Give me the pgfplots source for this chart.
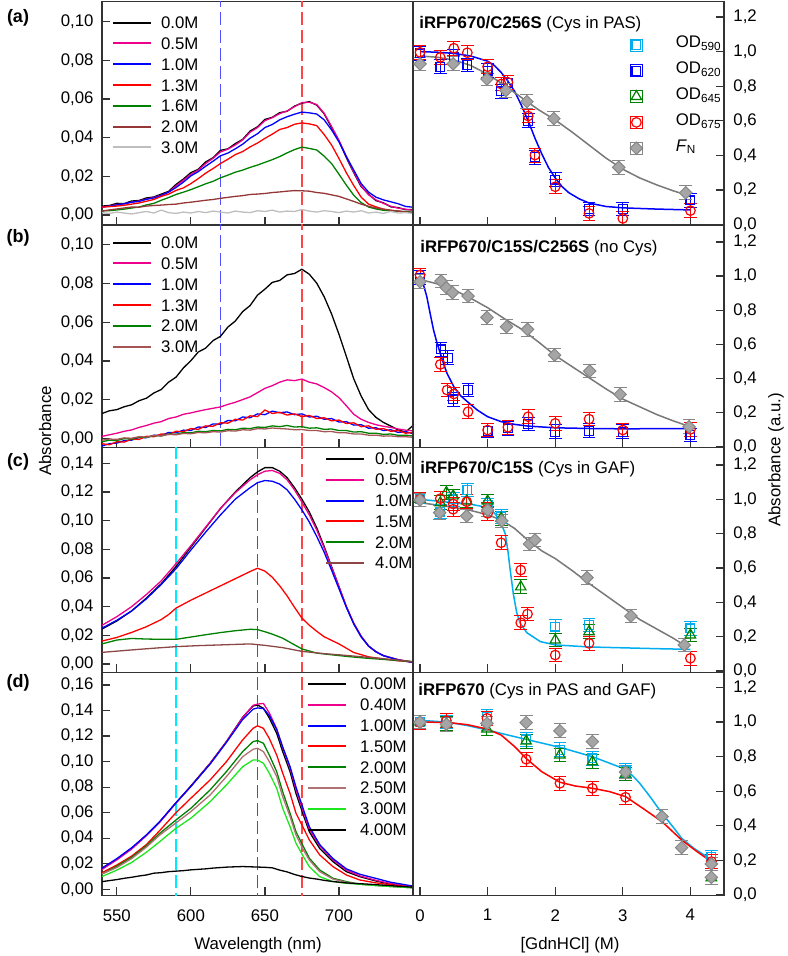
\documentclass[border=0pt]{standalone}
\usepackage{pgfplots}
\pgfplotsset{compat=1.18}
\usepackage{fontspec}
\setmainfont{Liberation Sans}
\newcommand\fs{\fontsize{8.4}{10}\selectfont}
\definecolor{cgreen}{RGB}{0,128,0}
\definecolor{cbrownA}{RGB}{150,55,55}
\definecolor{cgrayA}{RGB}{190,190,190}
\definecolor{cbrownB}{RGB}{165,85,85}
\definecolor{cbrownC}{RGB}{140,70,70}
\definecolor{cbrownD}{RGB}{175,115,115}
\definecolor{clgreen}{RGB}{30,230,30}
\definecolor{dblue}{RGB}{80,80,255}
\definecolor{dred}{RGB}{255,70,70}
\definecolor{dcyan}{RGB}{0,235,255}
\definecolor{dgreen}{RGB}{20,140,20}
\definecolor{fitgray}{RGB}{120,120,120}
\definecolor{dmfill}{RGB}{165,165,165}
\definecolor{dmdraw}{RGB}{135,135,135}
\pgfplotsset{
  base/.style={scale only axis, axis line style={black!80, line width=0.6pt},
    tick style={black!80, line width=0.6pt}, major tick length=4pt, tick align=inside,
    font=\fs, /pgf/number format/assume math mode=true,
    every tick label/.append style={font=\fs}},
  leftax/.style={base, width=155.5pt, xmin=540, xmax=750, xtick={550,600,650,700},
    xtick pos=bottom, ytick pos=left,
    yticklabel style={xshift=-0.7pt, /pgf/number format/.cd, fixed, fixed zerofill, precision=2, use comma},
    xticklabel style={yshift=-3.5pt},
    legend cell align=left,
    legend image code/.code={\draw[##1, line width=1pt] (0pt,0pt) -- (19pt,0pt);},
    legend style={draw=none, fill=none, inner sep=0pt, outer sep=0pt, at={(0,1)}, anchor=north west,
      row sep=4.4pt, column sep=4.5pt, nodes={inner sep=0pt, text height=6pt, text depth=0pt, font=\fs}}},
  rightax/.style={base, width=155.5pt, xmin=-0.104, xmax=4.497, xtick={0,1,2,3,4},
    xtick pos=bottom, ytick pos=right, yticklabel pos=right, ymin=0, ymax=1.29,
    ytick={0,0.2,0.4,0.6,0.8,1.0,1.2},
    yticklabel style={xshift=1.2pt, /pgf/number format/.cd, fixed, fixed zerofill, precision=1, use comma},
    xticklabel style={yshift=-3.5pt},
    legend cell align=left,
    legend style={draw=none, fill=none, inner sep=0pt, outer sep=0pt, at={(0,1)}, anchor=north west,
      row sep=3.9pt, column sep=16.5pt, nodes={inner sep=0pt, text height=6pt, text depth=3pt, font=\fs}}},
  cv/.style={line width=0.65pt, no markers},
  dsh/.style={line width=0.75pt, dash pattern=on 6.5pt off 2.5pt, forget plot},
  fit/.style={line width=0.75pt, no markers, forget plot},
  ebar/.style={error bars/y dir=both, error bars/y fixed=0.04,
    error bars/error bar style={line width=0.5pt, solid},
    error bars/error mark options={rotate=90, mark size=3.2pt, line width=0.5pt}},
  limg/.style={legend image code/.code={\path (-3pt,-3pt) rectangle (3pt,3pt); \draw[##1] plot coordinates {(0pt,0pt)};}},
  mcyan/.style={only marks, color=cyan, mark=square, mark size=2.2pt, mark options={solid, line width=0.6pt}},
  mblue/.style={only marks, color=blue, mark=square, mark size=2.2pt, mark options={solid, line width=0.6pt}},
  mgreen/.style={only marks, color=cgreen, mark=triangle, mark size=3.0pt, mark options={solid, line width=0.6pt}},
  mred/.style={only marks, color=red, mark=o, mark size=2.4pt, mark options={solid, line width=0.6pt}},
  mgray/.style={only marks, color=dmdraw, mark=square*, mark size=2.2pt, mark options={solid, rotate=45, fill=dmfill, draw=dmdraw, line width=0.5pt}},
}
\begin{document}
\begin{tikzpicture}
\path[use as bounding box] (0pt,0pt) rectangle (393.5pt,478pt);

% ================= (a) left =================
\begin{axis}[leftax, at={(51pt,365.5pt)}, anchor=south west, height=111.65pt,
  ymin=-0.00517, ymax=0.1103, ytick={0,0.02,0.04,0.06,0.08,0.10}, xticklabels={},
  legend style={xshift=5pt, yshift=-7.5pt}]
\addplot[dsh, dblue] coordinates {(620,-1) (620,1)};
\addplot[dsh, dred] coordinates {(675,-1) (675,1)};
\addplot[cv, black] coordinates {(540,.0046) (545,.0049) (550,.0060) (555,.0059) (560,.0072) (565,.0075) (570,.0088) (575,.0093) (580,.0108) (585,.0122) (590,.0158) (595,.0186) (600,.0219) (605,.0236) (610,.0274) (615,.0296) (620,.0334) (625,.0342) (630,.0369) (635,.0391) (640,.0434) (645,.0456) (650,.0494) (655,.0505) (660,.0529) (665,.0536) (670,.0563) (675,.0578) (680,.0586) (685,.0568) (690,.0523) (695,.0452) (700,.0383) (705,.0296) (710,.0218) (715,.0146) (720,.0108) (725,.0074) (730,.0063) (735,.0042) (740,.0038) (745,.0027) (750,.0028)};
\addlegendentry{0.0M}
\addplot[cv, magenta] coordinates {(540,.0040) (545,.0046) (550,.0053) (555,.0057) (560,.0066) (565,.0072) (570,.0082) (575,.0090) (580,.0102) (585,.0118) (590,.0150) (595,.0180) (600,.0210) (605,.0232) (610,.0266) (615,.0293) (620,.0326) (625,.0340) (630,.0362) (635,.0388) (640,.0428) (645,.0452) (650,.0488) (655,.0503) (660,.0524) (665,.0538) (670,.0560) (675,.0581) (680,.0583) (685,.0571) (690,.0526) (695,.0458) (700,.0386) (705,.0302) (710,.0222) (715,.0150) (720,.0104) (725,.0078) (730,.0060) (735,.0045) (740,.0035) (745,.0030) (750,.0024)};
\addlegendentry{0.5M}
\addplot[cv, blue] coordinates {(540,.0042) (545,.0045) (550,.0052) (555,.0058) (560,.0066) (565,.0070) (570,.0081) (575,.0088) (580,.0101) (585,.0118) (590,.0142) (595,.0170) (600,.0202) (605,.0224) (610,.0252) (615,.0278) (620,.0306) (625,.0320) (630,.0342) (635,.0366) (640,.0397) (645,.0420) (650,.0452) (655,.0468) (660,.0492) (665,.0508) (670,.0521) (675,.0532) (680,.0528) (685,.0522) (690,.0492) (695,.0440) (700,.0378) (705,.0302) (710,.0232) (715,.0162) (720,.0118) (725,.0092) (730,.0078) (735,.0068) (740,.0058) (745,.0044) (750,.0040)};
\addlegendentry{1.0M}
\addplot[cv, red] coordinates {(540,.0041) (545,.0043) (550,.0046) (555,.0050) (560,.0056) (565,.0062) (570,.0071) (575,.0080) (580,.0096) (585,.0108) (590,.0127) (595,.0140) (600,.0162) (605,.0188) (610,.0216) (615,.0240) (620,.0266) (625,.0288) (630,.0312) (635,.0328) (640,.0352) (645,.0372) (650,.0396) (655,.0418) (660,.0442) (665,.0452) (670,.0469) (675,.0476) (680,.0471) (685,.0462) (690,.0416) (695,.0362) (700,.0292) (705,.0218) (710,.0152) (715,.0092) (720,.0056) (725,.0042) (730,.0030) (735,.0024) (740,.0020) (745,.0015) (750,.0012)};
\addlegendentry{1.3M}
\addplot[cv, cgreen] coordinates {(540,.0021) (545,.0022) (550,.0026) (555,.0030) (560,.0036) (565,.0041) (570,.0052) (575,.0060) (580,.0076) (585,.0090) (590,.0106) (595,.0118) (600,.0131) (605,.0146) (610,.0161) (615,.0174) (620,.0192) (625,.0206) (630,.0221) (635,.0232) (640,.0246) (645,.0258) (650,.0272) (655,.0286) (660,.0302) (665,.0321) (670,.0338) (675,.0351) (680,.0344) (685,.0336) (690,.0304) (695,.0266) (700,.0211) (705,.0154) (710,.0102) (715,.0064) (720,.0041) (725,.0031) (730,.0024) (735,.0022) (740,.0019) (745,.0017) (750,.0015)};
\addlegendentry{1.6M}
\addplot[cv, cbrownA] coordinates {(540,.0020) (545,.0026) (550,.0031) (555,.0036) (560,.0041) (565,.0040) (570,.0046) (575,.0049) (580,.0051) (585,.0054) (590,.0056) (595,.0062) (600,.0066) (605,.0071) (610,.0076) (615,.0080) (620,.0086) (625,.0091) (630,.0096) (635,.0100) (640,.0106) (645,.0108) (650,.0111) (655,.0116) (660,.0119) (665,.0123) (670,.0126) (675,.0125) (680,.0123) (685,.0116) (690,.0112) (695,.0104) (700,.0096) (705,.0083) (710,.0070) (715,.0056) (720,.0045) (725,.0036) (730,.0030) (735,.0024) (740,.0020) (745,.0016) (750,.0012)};
\addlegendentry{2.0M}
\addplot[cv, cgrayA] coordinates {(540,.0012) (545,.0008) (550,.0015) (555,.0010) (560,.0005) (565,.0012) (570,.0018) (575,.0010) (580,.0025) (585,.0012) (590,.0008) (595,.0015) (600,.0010) (605,.0018) (610,.0012) (615,.0020) (620,.0015) (625,.0010) (630,.0020) (635,.0015) (640,.0012) (645,.0022) (650,.0018) (655,.0025) (660,.0015) (665,.0020) (670,.0018) (675,.0028) (680,.0020) (685,.0015) (690,.0022) (695,.0018) (700,.0012) (705,.0020) (710,.0015) (715,.0022) (720,.0010) (725,.0015) (730,.0008) (735,.0018) (740,.0010) (745,.0012) (750,.0008)};
\addlegendentry{3.0M}
\end{axis}

% ================= (b) left =================
\begin{axis}[leftax, at={(51pt,254.35pt)}, anchor=south west, height=111.15pt,
  ymin=-0.00466, ymax=0.1103, ytick={0,0.02,0.04,0.06,0.08,0.10}, xticklabels={},
  legend style={xshift=5pt, yshift=-5.85pt}]
\addplot[dsh, dblue] coordinates {(620,-1) (620,1)};
\addplot[dsh, dred] coordinates {(675,-1) (675,1)};
\addplot[cv, black] coordinates {(540,.0128) (545,.0142) (550,.0148) (555,.0163) (560,.0173) (565,.0194) (570,.0207) (575,.0234) (580,.0252) (585,.0290) (590,.0316) (595,.0364) (600,.0401) (605,.0446) (610,.0466) (615,.0505) (620,.0527) (625,.0575) (630,.0606) (635,.0655) (640,.0686) (645,.0740) (650,.0771) (655,.0806) (660,.0816) (665,.0845) (670,.0852) (675,.0874) (680,.0848) (685,.0802) (690,.0732) (695,.0643) (700,.0538) (705,.0423) (710,.0307) (715,.0218) (720,.0148) (725,.0108) (730,.0082) (735,.0063) (740,.0043) (745,.0032) (750,.0066)};
\addlegendentry{0.0M}
\addplot[cv, magenta] coordinates {(540,.0010) (545,.0018) (550,.0026) (555,.0036) (560,.0043) (565,.0056) (570,.0066) (575,.0078) (580,.0086) (585,.0102) (590,.0110) (595,.0124) (600,.0131) (605,.0140) (610,.0148) (615,.0155) (620,.0162) (625,.0175) (630,.0186) (635,.0200) (640,.0214) (645,.0236) (650,.0258) (655,.0272) (660,.0290) (665,.0302) (670,.0298) (675,.0306) (680,.0290) (685,.0281) (690,.0262) (695,.0240) (700,.0210) (705,.0168) (710,.0124) (715,.0098) (720,.0082) (725,.0070) (730,.0062) (735,.0056) (740,.0048) (745,.0042) (750,.0038)};
\addlegendentry{0.5M}
\addplot[cv, blue] coordinates {(540,-.0040) (545,-.0028) (550,-.0025) (555,-.0012) (560,-.0010) (565,.0004) (570,.0003) (575,.0016) (580,.0014) (585,.0030) (590,.0028) (595,.0042) (600,.0040) (605,.0058) (610,.0056) (615,.0074) (620,.0072) (625,.0092) (630,.0090) (635,.0110) (640,.0106) (645,.0126) (650,.0122) (655,.0140) (660,.0132) (665,.0136) (670,.0122) (675,.0126) (680,.0110) (685,.0114) (690,.0098) (695,.0102) (700,.0084) (705,.0086) (710,.0068) (715,.0070) (720,.0052) (725,.0054) (730,.0040) (735,.0044) (740,.0030) (745,.0034) (750,.0024)};
\addlegendentry{1.0M}
\addplot[cv, red] coordinates {(540,-.0028) (545,-.0034) (550,-.0018) (555,-.0020) (560,-.0004) (565,-.0006) (570,.0010) (575,.0008) (580,.0022) (585,.0020) (590,.0036) (595,.0034) (600,.0050) (605,.0046) (610,.0064) (615,.0062) (620,.0080) (625,.0078) (630,.0098) (635,.0094) (640,.0116) (645,.0112) (650,.0146) (655,.0128) (660,.0134) (665,.0120) (670,.0126) (675,.0112) (680,.0118) (685,.0102) (690,.0106) (695,.0090) (700,.0094) (705,.0076) (710,.0080) (715,.0060) (720,.0064) (725,.0046) (730,.0050) (735,.0036) (740,.0040) (745,.0026) (750,.0030)};
\addlegendentry{1.3M}
\addplot[cv, cgreen] coordinates {(540,-.0018) (545,-.0010) (550,-.0012) (555,-.0002) (560,-.0004) (565,.0006) (570,.0004) (575,.0014) (580,.0012) (585,.0022) (590,.0020) (595,.0030) (600,.0028) (605,.0036) (610,.0034) (615,.0040) (620,.0038) (625,.0046) (630,.0044) (635,.0052) (640,.0050) (645,.0058) (650,.0056) (655,.0064) (660,.0060) (665,.0066) (670,.0058) (675,.0060) (680,.0052) (685,.0054) (690,.0046) (695,.0048) (700,.0040) (705,.0040) (710,.0032) (715,.0034) (720,.0026) (725,.0026) (730,.0020) (735,.0022) (740,.0015) (745,.0016) (750,.0012)};
\addlegendentry{2.0M}
\addplot[cv, cbrownB] coordinates {(540,-.0010) (545,-.0004) (550,-.0006) (555,.0002) (560,.0000) (565,.0008) (570,.0006) (575,.0014) (580,.0012) (585,.0020) (590,.0018) (595,.0025) (600,.0023) (605,.0030) (610,.0028) (615,.0034) (620,.0032) (625,.0039) (630,.0037) (635,.0044) (640,.0042) (645,.0050) (650,.0048) (655,.0053) (660,.0050) (665,.0048) (670,.0044) (675,.0045) (680,.0040) (685,.0040) (690,.0034) (695,.0035) (700,.0028) (705,.0028) (710,.0022) (715,.0022) (720,.0016) (725,.0016) (730,.0011) (735,.0012) (740,.0008) (745,.0008) (750,.0005)};
\addlegendentry{3.0M}
\end{axis}

% ================= (c) left =================
\begin{axis}[leftax, at={(51pt,141.85pt)}, anchor=south west, height=112.5pt,
  ymin=-0.00579, ymax=0.1512, ytick={0,0.02,0.04,0.06,0.08,0.10,0.12,0.14}, xticklabels={},
  legend style={xshift=111.5pt, yshift=-2.85pt, column sep=5pt}]
\addplot[dsh, dcyan] coordinates {(590,-1) (590,1)};
\addplot[dsh, dgreen] coordinates {(645,-1) (645,1)};
\addplot[dsh, dred] coordinates {(675,-1) (675,1)};
\addplot[cv, black] coordinates {(540,.0244) (550,.0300) (560,.0370) (570,.0460) (580,.0560) (590,.0680) (600,.0815) (610,.0950) (620,.1085) (630,.1200) (640,.1300) (645,.1340) (650,.1370) (655,.1370) (660,.1345) (665,.1300) (670,.1230) (675,.1150) (680,.1060) (685,.0950) (690,.0820) (695,.0680) (700,.0540) (705,.0400) (710,.0280) (715,.0190) (720,.0125) (725,.0085) (730,.0058) (740,.0030) (750,.0012)};
\addlegendentry{0.0M}
\addplot[cv, magenta] coordinates {(540,.0270) (550,.0330) (560,.0400) (570,.0485) (580,.0580) (590,.0700) (600,.0825) (610,.0955) (620,.1085) (630,.1195) (640,.1285) (645,.1320) (650,.1345) (655,.1350) (660,.1330) (665,.1285) (670,.1215) (675,.1130) (680,.1040) (685,.0935) (690,.0810) (695,.0675) (700,.0540) (705,.0400) (710,.0285) (715,.0195) (720,.0125) (725,.0085) (730,.0058) (740,.0030) (750,.0012)};
\addlegendentry{0.5M}
\addplot[cv, blue] coordinates {(540,.0250) (550,.0305) (560,.0370) (570,.0455) (580,.0555) (590,.0665) (600,.0795) (610,.0920) (620,.1040) (630,.1150) (640,.1230) (645,.1265) (650,.1280) (655,.1275) (660,.1255) (665,.1215) (670,.1150) (675,.1075) (680,.0990) (685,.0890) (690,.0780) (695,.0655) (700,.0525) (705,.0395) (710,.0280) (715,.0190) (720,.0125) (725,.0085) (730,.0058) (740,.0028) (750,.0010)};
\addlegendentry{1.0M}
\addplot[cv, red] coordinates {(540,.0160) (550,.0185) (560,.0220) (570,.0260) (580,.0310) (585,.0345) (590,.0390) (600,.0445) (610,.0495) (620,.0545) (630,.0595) (640,.0645) (645,.0668) (650,.0648) (655,.0605) (660,.0545) (665,.0475) (670,.0395) (675,.0320) (680,.0270) (685,.0228) (690,.0190) (700,.0140) (710,.0080) (720,.0050) (730,.0035) (740,.0022) (750,.0015)};
\addlegendentry{1.5M}
\addplot[cv, cgreen] coordinates {(540,.0140) (550,.0167) (560,.0178) (570,.0174) (580,.0172) (590,.0172) (600,.0188) (610,.0204) (620,.0219) (630,.0232) (640,.0242) (645,.0240) (650,.0225) (655,.0208) (662,.0180) (668,.0145) (675,.0105) (685,.0076) (696,.0063) (707,.0051) (719,.0040) (735,.0028) (750,.0016)};
\addlegendentry{2.0M}
\addplot[cv, cbrownC] coordinates {(540,.0081) (560,.0098) (575,.0110) (590,.0121) (605,.0128) (620,.0133) (640,.0140) (650,.0130) (662,.0114) (675,.0088) (690,.0072) (700,.0064) (719,.0047) (735,.0032) (750,.0016)};
\addlegendentry{4.0M}
\end{axis}

% ================= (d) left =================
\begin{axis}[leftax, at={(51pt,30.35pt)}, anchor=south west, height=111.5pt,
  ymin=-0.0047, ymax=0.1699, ytick={0,0.02,0.04,0.06,0.08,0.10,0.12,0.14,0.16},
  legend style={xshift=102.5pt, yshift=-2.85pt, column sep=6.5pt}]
\addplot[dsh, dcyan] coordinates {(590,-1) (590,1)};
\addplot[dsh, dgreen] coordinates {(645,-1) (645,1)};
\addplot[dsh, dred] coordinates {(675,-1) (675,1)};
\addplot[cv, black] coordinates {(540,.0165) (550,.0235) (560,.0320) (570,.0425) (579,.0529) (590,.0678) (600,.0809) (613,.0987) (624,.1156) (635,.1347) (642,.1435) (645,.1443) (649,.1417) (653,.1340) (658,.1220) (662,.1078) (667,.0920) (671,.0750) (676,.0580) (680,.0450) (687,.0320) (696,.0216) (705,.0138) (714,.0099) (725,.0065) (735,.0040) (750,.0020)};
\addlegendentry{0.00M}
\addplot[cv, magenta] coordinates {(540,.0155) (550,.0230) (560,.0315) (570,.0420) (579,.0525) (590,.0675) (600,.0805) (613,.0985) (624,.1155) (635,.1345) (642,.1440) (645,.1450) (649,.1455) (653,.1380) (658,.1255) (662,.1110) (667,.0950) (671,.0780) (676,.0605) (680,.0470) (687,.0340) (696,.0230) (705,.0150) (714,.0105) (725,.0070) (735,.0045) (750,.0020)};
\addlegendentry{0.40M}
\addplot[cv, blue] coordinates {(540,.0165) (550,.0240) (560,.0325) (570,.0425) (579,.0530) (590,.0678) (600,.0805) (613,.0980) (624,.1150) (635,.1330) (642,.1410) (645,.1420) (649,.1415) (653,.1360) (658,.1250) (662,.1115) (667,.0960) (671,.0800) (676,.0625) (680,.0490) (687,.0350) (696,.0240) (705,.0160) (714,.0118) (725,.0085) (735,.0055) (750,.0025)};
\addlegendentry{1.00M}
\addplot[cv, red] coordinates {(540,.0130) (550,.0190) (560,.0260) (570,.0350) (579,.0460) (590,.0600) (600,.0713) (613,.0856) (624,.0999) (635,.1170) (642,.1260) (645,.1280) (649,.1260) (653,.1180) (658,.1050) (662,.0910) (667,.0750) (671,.0595) (676,.0480) (680,.0386) (687,.0269) (696,.0177) (705,.0112) (714,.0073) (725,.0050) (735,.0035) (750,.0015)};
\addlegendentry{1.50M}
\addplot[cv, cgreen] coordinates {(540,.0120) (550,.0180) (560,.0250) (570,.0340) (579,.0438) (590,.0543) (600,.0634) (613,.0778) (624,.0921) (635,.1078) (642,.1156) (645,.1164) (649,.1143) (653,.1050) (658,.0920) (662,.0764) (667,.0595) (671,.0450) (676,.0334) (680,.0243) (687,.0151) (696,.0086) (705,.0060) (714,.0040) (725,.0030) (735,.0022) (750,.0012)};
\addlegendentry{2.00M}
\addplot[cv, cbrownD] coordinates {(540,.0120) (550,.0170) (560,.0240) (570,.0330) (579,.0425) (590,.0520) (600,.0608) (613,.0738) (624,.0882) (635,.1038) (642,.1096) (645,.1104) (649,.1078) (653,.0999) (658,.0882) (662,.0725) (667,.0569) (671,.0425) (676,.0308) (680,.0229) (687,.0138) (696,.0080) (705,.0055) (714,.0040) (725,.0030) (735,.0022) (750,.0012)};
\addlegendentry{2.50M}
\addplot[cv, clgreen] coordinates {(540,.0100) (550,.0150) (560,.0210) (570,.0290) (579,.0373) (590,.0478) (600,.0556) (613,.0686) (624,.0817) (635,.0960) (642,.1012) (645,.1012) (649,.0987) (653,.0908) (658,.0790) (662,.0634) (667,.0490) (671,.0360) (676,.0255) (680,.0177) (687,.0099) (696,.0060) (705,.0047) (714,.0040) (725,.0030) (735,.0022) (750,.0012)};
\addlegendentry{3.00M}
\addplot[cv, black] coordinates {(540,.0060) (545,.0068) (550,.0076) (555,.0086) (560,.0094) (565,.0104) (570,.0112) (575,.0126) (580,.0130) (585,.0138) (590,.0142) (595,.0146) (600,.0152) (605,.0156) (610,.0160) (615,.0166) (620,.0170) (625,.0174) (630,.0176) (635,.0178) (640,.0176) (645,.0174) (650,.0172) (655,.0168) (660,.0150) (665,.0136) (670,.0116) (675,.0100) (680,.0088) (685,.0080) (690,.0070) (695,.0062) (700,.0056) (705,.0050) (710,.0046) (720,.0040) (730,.0032) (740,.0024) (750,.0016)};
\addlegendentry{4.00M}
\end{axis}

% ================= (a) right =================
\begin{axis}[rightax, at={(206.5pt,365.5pt)}, anchor=south west, height=111.65pt, xticklabels={},
  ymin=-0.002, ymax=1.289,
  legend style={xshift=108.5pt, yshift=-17.15pt}]
\addlegendimage{mcyan, limg}\addlegendentry{OD\textsubscript{590}}
\addlegendimage{mblue, limg}\addlegendentry{OD\textsubscript{620}}
\addlegendimage{mgreen, limg}\addlegendentry{OD\textsubscript{645}}
\addlegendimage{mred, limg}\addlegendentry{OD\textsubscript{675}}
\addlegendimage{mgray, limg}\addlegendentry{\textit{F}\textsubscript{N}}
\addplot[fit, blue] coordinates {(0,1.0) (0.25,0.997) (0.5,0.99) (0.75,0.975) (1.0,0.945) (1.1,0.92) (1.2,0.88) (1.3,0.83) (1.4,0.77) (1.5,0.69) (1.6,0.60) (1.7,0.50) (1.8,0.41) (1.9,0.33) (2.0,0.27) (2.1,0.22) (2.2,0.185) (2.35,0.15) (2.5,0.125) (2.75,0.105) (3.0,0.097) (3.5,0.09) (4.0,0.085)};
\addplot[fit, fitgray] coordinates {(0,0.975) (0.25,0.968) (0.5,0.952) (0.75,0.92) (1.0,0.87) (1.25,0.805) (1.5,0.735) (1.75,0.665) (2.0,0.605) (2.25,0.535) (2.5,0.46) (2.75,0.385) (3.0,0.32) (3.25,0.27) (3.5,0.23) (3.75,0.195) (4.0,0.165)};
\addplot[mblue, ebar, forget plot] coordinates {(0,0.99) (0.3,0.913) (0.5,0.97) (0.7,0.923) (1.0,0.89) (1.2,0.77) (1.3,0.82) (1.6,0.60) (1.7,0.39) (2.0,0.26) (2.5,0.09) (3.0,0.09) (4.0,0.14)};
\addplot[mred, ebar, forget plot] coordinates {(0,0.996) (0.3,0.967) (0.5,1.02) (0.7,0.994) (1.0,0.913) (1.2,0.813) (1.3,0.823) (1.6,0.628) (1.7,0.402) (2.0,0.219) (2.5,0.065) (3.0,0.036) (4.0,0.081)};
\addplot[mgray, ebar, forget plot] coordinates {(0,0.929) (0.49,0.93) (0.99,0.842) (1.27,0.775) (1.58,0.711) (1.98,0.613) (2.94,0.331) (3.93,0.184)};
\node[anchor=west, inner sep=0pt, font=\fs] at (rel axis cs:0,1) [xshift=3pt, yshift=-11.2pt] {\textbf{iRFP670/C256S} (Cys in PAS)};
\end{axis}

% ================= (b) right =================
\begin{axis}[rightax, at={(206.5pt,254.35pt)}, anchor=south west, height=111.15pt, xticklabels={},
  ymin=-0.002, ymax=1.299]
\addplot[fit, blue] coordinates {(0,0.99) (0.05,0.95) (0.1,0.88) (0.15,0.78) (0.2,0.684) (0.25,0.61) (0.3,0.548) (0.35,0.485) (0.4,0.43) (0.5,0.353) (0.6,0.30) (0.7,0.265) (0.85,0.215) (1.0,0.177) (1.2,0.148) (1.4,0.132) (1.6,0.122) (2.0,0.112) (2.5,0.108) (3.0,0.106) (4.0,0.108)};
\addplot[fit, fitgray] coordinates {(0,0.98) (0.25,0.955) (0.5,0.92) (0.75,0.87) (1.0,0.815) (1.25,0.75) (1.5,0.69) (1.75,0.615) (2.0,0.535) (2.25,0.47) (2.5,0.405) (2.75,0.34) (3.0,0.28) (3.25,0.235) (3.5,0.19) (3.75,0.152) (4.0,0.118)};
\addplot[mblue, ebar, forget plot] coordinates {(0,0.99) (0.31,0.571) (0.41,0.522) (0.49,0.278) (0.71,0.333) (1.0,0.095) (1.30,0.109) (1.60,0.134) (2.0,0.089) (2.5,0.095) (3.0,0.089) (4.0,0.07)};
\addplot[mred, ebar, forget plot] coordinates {(0,1.006) (0.30,0.483) (0.40,0.333) (0.50,0.310) (0.71,0.206) (1.0,0.099) (1.30,0.115) (1.60,0.177) (2.0,0.138) (2.5,0.163) (3.0,0.099) (4.0,0.103)};
\addplot[mgray, ebar, forget plot] coordinates {(0,0.967) (0.31,0.971) (0.39,0.932) (0.48,0.903) (0.71,0.883) (0.99,0.758) (1.28,0.704) (1.59,0.688) (1.99,0.538) (2.51,0.444) (2.96,0.308) (3.98,0.118)};
\node[anchor=west, inner sep=0pt, font=\fs] at (rel axis cs:0,1) [xshift=3.5pt, yshift=-11.7pt] {\textbf{iRFP670/C15S/C256S} (no Cys)};
\end{axis}

% ================= (c) right =================
\begin{axis}[rightax, at={(206.5pt,141.85pt)}, anchor=south west, height=112.5pt, xticklabels={},
  ymin=-0.0076, ymax=1.303]
\addplot[fit, cyan] coordinates {(0,1.0) (0.25,0.99) (0.5,0.98) (0.7,0.975) (0.9,0.96) (1.0,0.945) (1.1,0.92) (1.18,0.88) (1.26,0.80) (1.3,0.70) (1.33,0.60) (1.38,0.45) (1.43,0.34) (1.48,0.28) (1.58,0.223) (1.78,0.171) (2.0,0.152) (2.5,0.14) (3.0,0.135) (3.5,0.13) (4.0,0.126)};
\addplot[fit, fitgray] coordinates {(0,0.98) (0.25,0.967) (0.5,0.953) (0.75,0.935) (1.0,0.91) (1.2,0.88) (1.4,0.83) (1.6,0.76) (1.8,0.70) (2.0,0.655) (2.25,0.585) (2.5,0.51) (2.75,0.44) (3.0,0.37) (3.25,0.30) (3.5,0.245) (3.75,0.19) (3.91,0.15)};
\addplot[mcyan, ebar, forget plot] coordinates {(0,1.0) (0.30,0.928) (0.49,1.0) (0.70,1.054) (1.0,0.967) (1.2,0.90) (2.0,0.258) (2.5,0.268) (4.0,0.248)};
\addplot[mgreen, ebar, forget plot] coordinates {(0,1.0) (0.30,0.98) (0.39,1.04) (0.49,1.02) (0.69,0.99) (1.0,0.99) (1.2,0.89) (1.49,0.49) (2.0,0.18) (2.5,0.229) (4.0,0.21)};
\addplot[mred, ebar, forget plot] coordinates {(0,1.0) (0.30,1.004) (0.49,0.973) (0.49,0.942) (0.69,0.986) (1.0,0.942) (1.0,0.918) (1.2,0.747) (1.49,0.588) (1.49,0.281) (1.59,0.332) (2.0,0.093) (2.5,0.161) (4.0,0.074)};
\addplot[mgray, ebar, forget plot] coordinates {(0,0.996) (0.29,0.922) (0.69,0.903) (1.0,0.938) (1.21,0.874) (1.62,0.74) (1.70,0.763) (2.47,0.544) (3.12,0.32) (3.91,0.151)};
\node[anchor=west, inner sep=0pt, font=\fs] at (rel axis cs:0,1) [xshift=3.5pt, yshift=-10.9pt] {\textbf{iRFP670/C15S} (Cys in GAF)};
\end{axis}

% ================= (d) right =================
\begin{axis}[rightax, at={(206.5pt,30.35pt)}, anchor=south west, height=111.5pt,
  ymin=-0.002, ymax=1.288]
\addplot[fit, cyan] coordinates {(0,1.01) (0.4,1.0) (0.7,0.98) (1.0,0.954) (1.3,0.925) (1.57,0.90) (2.07,0.854) (2.55,0.80) (3.04,0.727) (3.16,0.684) (3.25,0.646) (3.4,0.57) (3.58,0.472) (3.75,0.39) (3.87,0.328) (4.05,0.27) (4.24,0.222) (4.31,0.193)};
\addplot[fit, red] coordinates {(0,1.0) (0.4,0.998) (0.7,0.985) (0.99,0.96) (1.2,0.925) (1.4,0.858) (1.57,0.79) (1.8,0.713) (2.07,0.652) (2.3,0.63) (2.55,0.617) (2.8,0.598) (3.04,0.569) (3.3,0.50) (3.58,0.424) (3.87,0.318) (4.1,0.25) (4.31,0.193)};
\addplot[mcyan, ebar, forget plot] coordinates {(0,1.0) (0.39,1.0) (0.99,1.03) (1.57,0.90) (2.07,0.84) (2.55,0.79) (3.04,0.72) (4.31,0.22)};
\addplot[mgreen, ebar, forget plot] coordinates {(0,1.0) (0.39,0.99) (0.99,0.96) (1.57,0.89) (2.07,0.81) (2.55,0.77) (3.04,0.70) (4.31,0.10)};
\addplot[mred, ebar, forget plot] coordinates {(0,0.997) (0.39,1.008) (0.99,1.022) (1.57,0.785) (2.07,0.646) (2.55,0.617) (3.04,0.565) (4.31,0.193)};
\addplot[mgray, ebar, forget plot] coordinates {(0,1.0) (0.39,0.987) (0.99,0.993) (1.57,0.997) (2.07,0.949) (2.55,0.887) (3.04,0.711) (3.58,0.453) (3.87,0.274) (4.31,0.179) (4.31,0.102)};
\node[anchor=west, inner sep=0pt, font=\fs] at (rel axis cs:0,1) [xshift=2.5pt, yshift=-9.3pt] {\textbf{iRFP670} (Cys in PAS and GAF)};
\end{axis}

% ================= labels =================
\node[font=\bfseries\fontsize{9}{10}\selectfont] at (9pt,468.85pt) {(a)};
\node[font=\bfseries\fontsize{9}{10}\selectfont] at (9pt,358.85pt) {(b)};
\node[font=\bfseries\fontsize{9}{10}\selectfont] at (9pt,246.85pt) {(c)};
\node[font=\bfseries\fontsize{9}{10}\selectfont] at (9pt,136.65pt) {(d)};
\node[rotate=90, font=\fs] at (22.5pt,262.5pt) {Absorbance};
\node[rotate=90, font=\fs] at (388pt,248pt) {Absorbance (a.u.)};
\node[font=\fs] at (129pt,5.5pt) {Wavelength (nm)};
\node[font=\fs] at (285pt,5.5pt) {[GdnHCl] (M)};
\end{tikzpicture}
\end{document}
